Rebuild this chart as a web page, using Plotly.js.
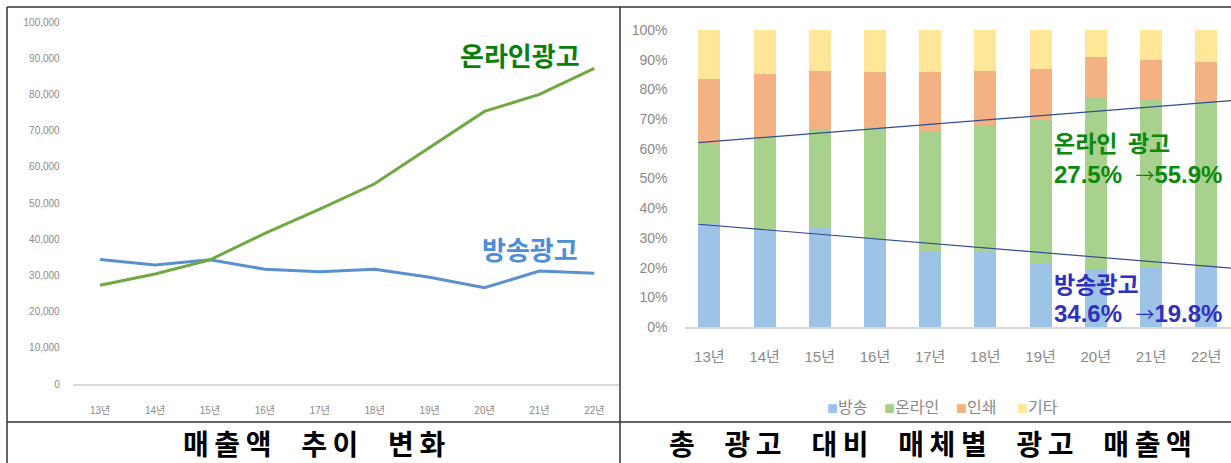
<!DOCTYPE html>
<html>
<head>
<meta charset="utf-8">
<script src="https://cdn.plot.ly/plotly-3.0.1.min.js"></script>
<style>html,body{margin:0;padding:0;background:#fff;}#chart{width:1231px;height:463px;}</style>
</head>
<body>
<div id="chart"></div>
<script>
// ---- data ----
var years = ['13년','14년','15년','16년','17년','18년','19년','20년','21년','22년'];
var broadcastSales = [34400, 32900, 34300, 31700, 31000, 31700, 29500, 26600, 31200, 30600];
var onlineSales    = [27300, 30400, 34300, 41600, 48300, 55300, 65300, 75300, 80000, 87200];
var salesTicks = [0,10000,20000,30000,40000,50000,60000,70000,80000,90000,100000];
var salesTickText = ['0','10,000','20,000','30,000','40,000','50,000','60,000','70,000','80,000','90,000','100,000'];

var shareNames = ['방송','온라인','인쇄','기타'];
var broadcastShare = [34.6, 33.0, 33.5, 29.3, 25.2, 25.3, 21.5, 19.5, 20.3, 19.8];
var onlineShare    = [27.5, 31.0, 33.0, 38.0, 40.5, 42.7, 48.2, 58.0, 56.1, 55.9];
var printShare     = [21.4, 21.2, 19.7, 18.5, 20.1, 18.2, 17.2, 13.5, 13.5, 13.5];
var otherShare     = [16.5, 14.8, 13.8, 14.2, 14.2, 13.8, 13.1, 9.0, 10.1, 10.8];
var shareTicks = [0,10,20,30,40,50,60,70,80,90,100];
var shareTickText = ['0%','10%','20%','30%','40%','50%','60%','70%','80%','90%','100%'];

var trendX = [-0.2, 9.45];
var onlineTrend = [62.1, 76.2];
var broadcastTrend = [34.6, 19.8];

// ---- helpers ----
var W = 1231, H = 463;
function px(x){ return x / W; }
function py(y){ return 1 - y / H; }
function spaced(s){ // letter spacing inside words, wide gaps between words
  return s.split(' ').map(function(w){ return w.split('').join('\u2009'); }).join('\u3000\u200A');
}

var KR = '"Noto Sans CJK KR", "Noto Sans", sans-serif';
var LAT = '"Liberation Sans", "Noto Sans CJK KR", sans-serif';
var shareColors = ['#9dc3e6','#a9d18e','#f4b183','#ffe699'];
var ARROW = '<span style="font-family:\'Noto Sans CJK KR\';font-weight:normal;font-size:19px">→</span>';

var traces = [
  {type:'scatter', mode:'lines', x:years, y:broadcastSales, xaxis:'x', yaxis:'y',
   line:{color:'#5b90d0', width:3}, name:'방송광고'},
  {type:'scatter', mode:'lines', x:years, y:onlineSales, xaxis:'x', yaxis:'y',
   line:{color:'#70a844', width:3}, name:'온라인광고'}
];
var shareSeries = [broadcastShare, onlineShare, printShare, otherShare];
shareSeries.forEach(function(s, i){
  traces.push({type:'bar', x:years, y:s, xaxis:'x2', yaxis:'y2', width:0.4,
    marker:{color:shareColors[i]}, name:shareNames[i]});
});

var annotations = [
  {xref:'paper', yref:'paper', x:px(520), y:py(54), text:'<b>온라인광고</b>', showarrow:false,
   font:{family:KR, size:26, color:'#0a800a'}, xanchor:'center', yanchor:'middle'},
  {xref:'paper', yref:'paper', x:px(530), y:py(249), text:'<b>방송광고</b>', showarrow:false,
   font:{family:KR, size:26, color:'#4a8fd6'}, xanchor:'center', yanchor:'middle'},
  {xref:'paper', yref:'paper', x:px(1052), y:py(142), text:'<b>온라인\u00A0\u00A0광고</b>', showarrow:false,
   font:{family:KR, size:23, color:'#0a8a0a'}, xanchor:'left', yanchor:'middle'},
  {xref:'paper', yref:'paper', x:px(1052), y:py(174), text:'<b>27.5%\u00A0\u00A0'+ARROW+'55.9%</b>', showarrow:false,
   font:{family:LAT, size:24, color:'#0a8a0a'}, xanchor:'left', yanchor:'middle'},
  {xref:'paper', yref:'paper', x:px(1052), y:py(283), text:'<b>방송광고</b>', showarrow:false,
   font:{family:KR, size:23, color:'#3030c0'}, xanchor:'left', yanchor:'middle'},
  {xref:'paper', yref:'paper', x:px(1052), y:py(313), text:'<b>34.6%\u00A0\u00A0'+ARROW+'19.8%</b>', showarrow:false,
   font:{family:LAT, size:24, color:'#3030c0'}, xanchor:'left', yanchor:'middle'},
  {xref:'paper', yref:'paper', x:px(314), y:py(443), text:'<b>'+spaced('매출액 추이 변화')+'</b>', showarrow:false,
   font:{family:KR, size:28, color:'#000'}, xanchor:'center', yanchor:'middle'},
  {xref:'paper', yref:'paper', x:px(930), y:py(443), text:'<b>'+spaced('총 광고 대비 매체별 광고 매출액')+'</b>', showarrow:false,
   font:{family:KR, size:28, color:'#000'}, xanchor:'center', yanchor:'middle'}
];
// legend as annotations
var legendLeft = [825, 882, 954, 1015];
shareNames.forEach(function(n, i){
  annotations.push({xref:'paper', yref:'paper', x:px(legendLeft[i]), y:py(406),
    text:'<span style="color:'+shareColors[i]+';font-size:11px">■</span>'+n, showarrow:false,
    font:{family:KR, size:16, color:'#8a8a8a'}, xanchor:'left', yanchor:'middle'});
});

var shapes = [
  {type:'line', xref:'paper', yref:'paper', x0:px(7), x1:px(1232), y0:py(7), y1:py(7), line:{color:'#333', width:1.5}},
  {type:'line', xref:'paper', yref:'paper', x0:px(7), x1:px(7), y0:py(7), y1:py(464), line:{color:'#333', width:1.5}},
  {type:'line', xref:'paper', yref:'paper', x0:px(620), x1:px(620), y0:py(7), y1:py(464), line:{color:'#333', width:1.5}},
  {type:'line', xref:'paper', yref:'paper', x0:px(7), x1:px(1232), y0:py(422), y1:py(422), line:{color:'#333', width:1.5}},
  {type:'line', xref:'x2', yref:'y2', x0:trendX[0], x1:trendX[1], y0:onlineTrend[0], y1:onlineTrend[1], line:{color:'#2f4f8f', width:1.2}},
  {type:'line', xref:'x2', yref:'y2', x0:trendX[0], x1:trendX[1], y0:broadcastTrend[0], y1:broadcastTrend[1], line:{color:'#2f4f8f', width:1.2}}
];

var layout = {
  width: W, height: H,
  margin:{l:0, r:0, t:0, b:0, pad:0},
  paper_bgcolor:'#fff', plot_bgcolor:'rgba(0,0,0,0)',
  showlegend:false,
  barmode:'stack',
  xaxis:{domain:[px(72.7), px(619)], type:'category', range:[-0.5, 9.45], anchor:'y',
    showgrid:false, zeroline:false, showline:true, linecolor:'#d9d9d9', linewidth:1.5, ticks:'',
    tickfont:{family:LAT, size:10, color:'#8a8a8a'}, ticklabelstandoff:16, fixedrange:true},
  yaxis:{domain:[py(384), py(22)], range:[0, 100000], anchor:'x', tickmode:'array', tickvals:salesTicks, ticktext:salesTickText,
    showgrid:false, zeroline:false, showline:false, ticks:'',
    tickfont:{family:LAT, size:10, color:'#8a8a8a'}, ticklabelstandoff:12, fixedrange:true},
  xaxis2:{domain:[px(684.5), 1], type:'category', range:[-0.45, 9.45], anchor:'y2',
    showgrid:false, zeroline:false, showline:true, linecolor:'#d9d9d9', linewidth:1.5, ticks:'',
    tickfont:{family:LAT, size:15, color:'#8a8a8a'}, ticklabelstandoff:15, fixedrange:true},
  yaxis2:{domain:[py(327), py(30)], range:[0, 100], anchor:'x2', tickmode:'array', tickvals:shareTicks, ticktext:shareTickText,
    showgrid:false, zeroline:false, showline:false, ticks:'',
    tickfont:{family:LAT, size:14, color:'#8a8a8a'}, ticklabelstandoff:16, fixedrange:true},
  annotations: annotations,
  shapes: shapes
};

Plotly.newPlot('chart', traces, layout, {displayModeBar:false, staticPlot:true});
</script>
</body>
</html>
